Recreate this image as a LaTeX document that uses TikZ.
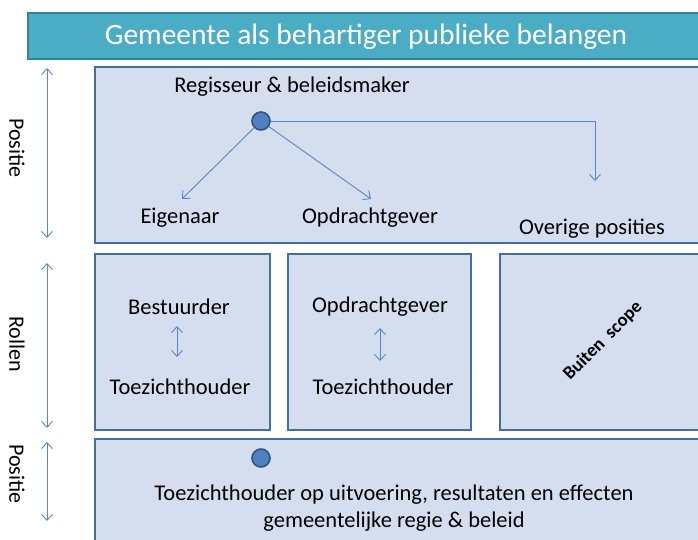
\documentclass[tikz,border=0pt]{standalone}
\usepackage{fontspec}
\setmainfont{Carlito}
\usetikzlibrary{arrows.meta}
\definecolor{titlefill}{HTML}{4BACC6}
\definecolor{titleedge}{HTML}{31849B}
\definecolor{panelfill}{HTML}{D4DEEE}
\definecolor{paneledge}{HTML}{41709C}
\definecolor{linkblue}{HTML}{5A86C2}
\definecolor{dotfill}{HTML}{4F81BD}
\definecolor{dotedge}{HTML}{2F528F}
\tikzset{
  panel/.style={draw=paneledge, line width=2.6pt, fill=panelfill},
  label/.style={font=\fontsize{22.5}{25}\selectfont, inner sep=0pt, anchor=center},
  link/.style={draw=linkblue, line width=0.9pt, -{Straight Barb[length=6pt,width=11pt]}},
  twoway/.style={draw=linkblue, line width=0.9pt, {Straight Barb[length=6pt,width=11pt]}-{Straight Barb[length=6pt,width=11pt]}},
  dot/.style={circle, fill=dotfill, draw=dotedge, line width=1.6pt, minimum size=18pt, inner sep=0pt},
  side/.style={font=\fontsize{22}{24}\selectfont, rotate=-90, inner sep=0pt}
}
\begin{document}
\begin{tikzpicture}[x=1pt, y=-1pt]
\useasboundingbox (0,0) rectangle (698,540);
\fill[white] (0,0) rectangle (698,540);

% title bar
\draw[fill=titlefill, draw=titleedge, line width=2.4pt] (28,13) rectangle (702,59);
\node[text=white, font=\fontsize{29.5}{32}\selectfont, inner sep=0pt] (title) at (366,37) {Gemeente als behartiger publieke belangen};

% panels
\draw[panel] (95,67) rectangle (704,243);
\draw[panel] (95,254) rectangle (270,430);
\draw[panel] (288,254) rectangle (471,430);
\draw[panel] (500,254) rectangle (704,430);
\draw[panel] (95,439) rectangle (704,548);

% side scales
\coordinate (p1t) at (47,68);  \coordinate (p1b) at (47,238);
\coordinate (r1t) at (47,263); \coordinate (r1b) at (47,428);
\coordinate (p2t) at (47,442); \coordinate (p2b) at (47,521);
\draw[twoway] (p1t) -- (p1b);
\draw[twoway] (r1t) -- (r1b);
\draw[twoway] (p2t) -- (p2b);
\node[side] (lpos1) at (17,148) {Positie};
\node[side] (lrol) at (17,344) {Rollen};
\node[side] (lpos2) at (17,474) {Positie};

% top panel: positions
\node[label] (regie) at (292,87) {Regisseur \& beleidsmaker};
\node[dot] (hub) at (261,121) {};
\node[label] (eig) at (180,218) {Eigenaar};
\node[label] (opd) at (370,218) {Opdrachtgever};
\node[label] (ovr) at (592,229) {Overige posities};
\coordinate (eigtip) at (182,199);
\coordinate (opdtip) at (371,199);
\coordinate (ovrtip) at (595,181);
\draw[link] (hub) -- (eigtip);
\draw[link] (hub) -- (opdtip);
\draw[link] (hub.east) -- (hub.east -| ovrtip) -- (ovrtip);

% roles
\node[label] (best) at (179,307) {Bestuurder};
\node[label] (toe1) at (180,387) {Toezichthouder};
\coordinate (a1t) at (177,326); \coordinate (a1b) at (177,357);
\draw[twoway] (a1t) -- (a1b);

\node[label] (opd2) at (380,307) {Opdrachtgever};
\node[label] (toe2) at (383,387) {Toezichthouder};
\coordinate (a2t) at (380,328); \coordinate (a2b) at (380,361);
\draw[twoway] (a2t) -- (a2b);

\node[font=\bfseries\fontsize{18.5}{20}\selectfont, rotate=45, inner sep=0pt] (scope) at (603,341) {Buiten\ \ scope};

% bottom panel
\node[dot] (hub2) at (261,458) {};
\node[label] (bot1) at (394,495) {Toezichthouder op uitvoering, resultaten en effecten};
\node[label] (bot2) at (394,522) {gemeentelijke regie \& beleid};
\end{tikzpicture}
\end{document}
